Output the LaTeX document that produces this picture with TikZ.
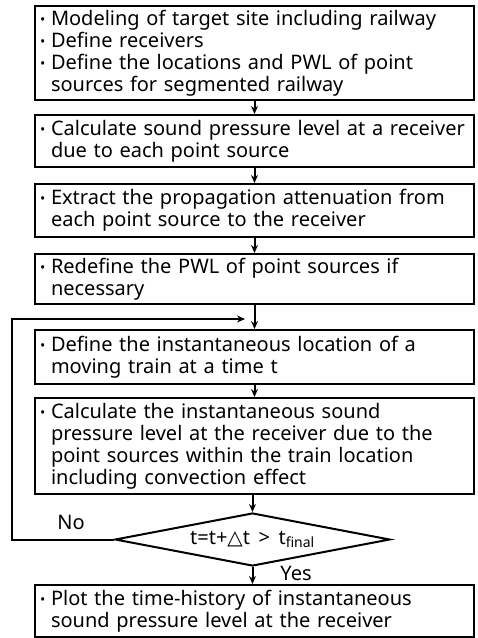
\documentclass[tikz,border=0pt]{standalone}
\usepackage{fontspec}
\setmainfont{Noto Sans}
\newfontfamily\symfont{DejaVu Sans}
\usetikzlibrary{arrows.meta, positioning, shapes.geometric}

% bullet and hanging indent for the box texts
\newcommand{\itm}{\makebox[11pt][l]{\raisebox{1pt}{\fontsize{14}{14}\selectfont\textbullet}}}
\newcommand{\cnt}{\hspace*{11pt}}

\begin{document}
\begin{tikzpicture}[x=1pt, y=-1pt,
  stepbox/.style={draw, line width=2pt, anchor=north, minimum width=439pt,
    text width=429pt, align=left, inner sep=4pt,
    font=\fontsize{20}{22}\selectfont},
  decide/.style={draw, line width=2pt, diamond, aspect=5, inner sep=0pt,
    minimum width=275pt, minimum height=53pt,
    font=\fontsize{20}{22}\selectfont},
  arr/.style={-{Stealth[length=8pt,width=7pt]}, line width=2pt},
  lbl/.style={font=\fontsize{20}{22}\selectfont}]
  \useasboundingbox[fill=white] (0,0) rectangle (478,638);

  \node[stepbox, minimum height=94pt] (model) at (254.5,5)
    {\itm Modeling of target site including railway\\
     \itm Define receivers\\
     \itm Define the locations and PWL of point\\
     \cnt sources for segmented railway};
  \node[stepbox, minimum height=52pt] (spl) at (254.5,114)
    {\itm Calculate sound pressure level at a receiver\\
     \cnt due to each point source};
  \node[stepbox, minimum height=53pt] (atten) at (254.5,183)
    {\itm Extract the propagation attenuation from\\
     \cnt each point source to the receiver};
  \node[stepbox, minimum height=50pt] (pwl) at (254.5,253)
    {\itm Redefine the PWL of point sources if\\
     \cnt necessary};
  \node[stepbox, minimum height=54pt] (loc) at (254.5,329)
    {\itm Define the instantaneous location of a\\
     \cnt moving train at a time t};
  \node[stepbox, minimum height=96pt] (inst) at (254.5,397)
    {\itm Calculate the instantaneous sound\\
     \cnt pressure level at the receiver due to the\\
     \cnt point sources within the train location\\
     \cnt including convection effect};
  \node[decide] (check) at (252.5,539.5)
    {t=t+{\symfont △}t \,>\, t\textsubscript{final}};
  \node[stepbox, minimum height=52pt] (plot) at (254.5,584)
    {\itm Plot the time-history of instantaneous\\
     \cnt sound pressure level at the receiver};

  \draw[arr] (model) -- (spl);
  \draw[arr] (spl) -- (atten);
  \draw[arr] (atten) -- (pwl);
  \draw[arr] (pwl) -- (loc);
  \draw[arr] (loc) -- (inst);
  \draw[arr] (inst.south -| check.north) -- (check.north);
  \draw[arr] (check.south) -- (check.south |- plot.north);

  % loop back
  \coordinate (corner) at (12,319);
  \coordinate (loopend) at (245,319);
  \draw[arr] (check.west) -| (corner) -- (loopend);
  \node[lbl] (no) at (71,522) {No};
  \node[lbl] (yes) at (296,573) {Yes};
\end{tikzpicture}
\end{document}
